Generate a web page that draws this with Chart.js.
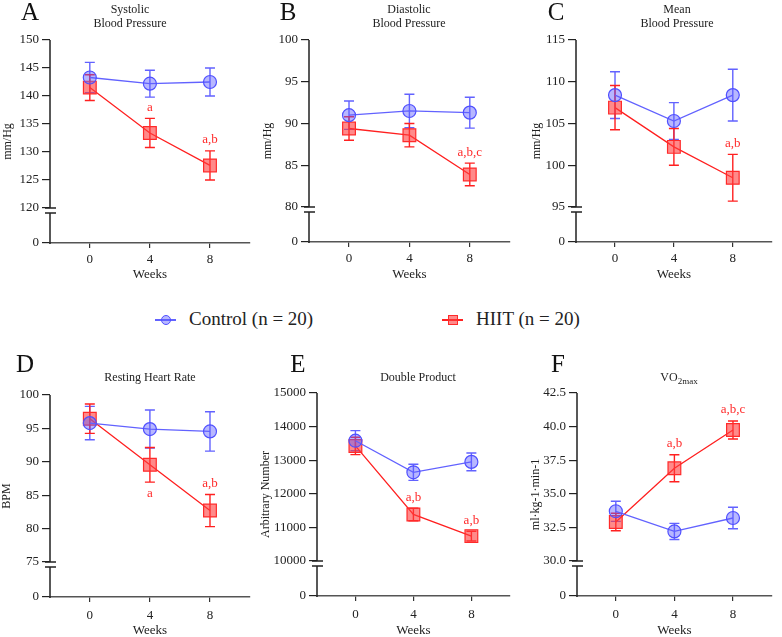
<!DOCTYPE html>
<html lang="en">
<head>
<meta charset="UTF-8">
<title>HIIT vs Control</title>
<script src="https://cdn.jsdelivr.net/npm/chart.js"></script>
<style>
  body { margin: 0; background: #fff; }
  #wrap { position: relative; width: 782px; height: 637px; overflow: hidden; }
  #wrap canvas { position: absolute; }
  .lg-text { position: absolute; font-family: "Liberation Serif", "Times New Roman", serif; font-size: 19px; color: #222; line-height: 22px; white-space: nowrap; }
  .lg-line { position: absolute; height: 1.5px; }
  .lg-mark { position: absolute; box-sizing: border-box; }
</style>
</head>
<body>
<div id="wrap"></div>
<script>
const weeks = [0, 4, 8];
const groupNames = ['Control (n = 20)', 'HIIT (n = 20)'];

// A - systolic blood pressure (mm/Hg)
const sysTicks = [120, 125, 130, 135, 140, 145, 150];
const sysControl = [143.3, 142.2, 142.5];
const sysControlSem = [2.7, 2.4, 2.5];
const sysHiit = [141.5, 133.4, 127.6];
const sysHiitSem = [2.3, 2.6, 2.6];
const sysSig = ['', 'a', 'a,b'];

// B - diastolic blood pressure
const diaTicks = [80, 85, 90, 95, 100];
const diaControl = [91.0, 91.5, 91.3];
const diaControlSem = [1.7, 2.0, 1.85];
const diaHiit = [89.4, 88.6, 83.9];
const diaHiitSem = [1.4, 1.4, 1.35];
const diaSig = ['', '', 'a,b,c'];

// C - mean blood pressure
const mapTicks = [95, 100, 105, 110, 115];
const mapControl = [108.4, 105.3, 108.4];
const mapControlSem = [2.8, 2.2, 3.1];
const mapHiit = [106.9, 102.2, 98.5];
const mapHiitSem = [2.65, 2.2, 2.8];
const mapSig = ['', '', 'a,b'];

// D - resting heart rate (BPM)
const hrTicks = [75, 80, 85, 90, 95, 100];
const hrControl = [95.8, 94.9, 94.55];
const hrControlSem = [2.5, 2.85, 2.95];
const hrHiit = [96.45, 89.55, 82.7];
const hrHiitSem = [2.2, 2.6, 2.4];
const hrSig = ['', 'a', 'a,b'];
const hrSigBelow = [false, true, false];

// E - double product
const dpTicks = [10000, 11000, 12000, 13000, 14000, 15000];
const dpControl = [13580, 12640, 12950];
const dpControlSem = [300, 240, 265];
const dpHiit = [13425, 11385, 10740];
const dpHiitSem = [260, 185, 145];
const dpSig = ['', 'a,b', 'a,b'];

// F - VO2max
const voTicks = [30.0, 32.5, 35.0, 37.5, 40.0, 42.5];
const voControl = [33.7, 32.2, 33.2];
const voControlSem = [0.75, 0.6, 0.8];
const voHiit = [32.9, 36.9, 39.75];
const voHiitSem = [0.65, 1.0, 0.67];
const voSig = ['', 'a,b', 'a,b,c'];

const SERIF = '"Liberation Serif", "Times New Roman", serif';
const CTRL_LINE = '#6262ff', CTRL_FILL = 'rgba(95,95,255,0.45)', CTRL_EDGE = '#5050ff';
const HIIT_LINE = '#ff2020', HIIT_FILL = 'rgba(255,60,60,0.6)', HIIT_EDGE = '#ff2a2a';

// box = canvas [x, y, w, h]; area = plot area [left, top, right, bottom] in page px
const panels = [
  { letter: 'A', title: ['Systolic', 'Blood Pressure'], yLabel: 'mm/Hg', ticks: sysTicks, decimals: 0,
    ctrl: sysControl, ctrlErr: sysControlSem, hiit: sysHiit, hiitErr: sysHiitSem, sig: sysSig,
    box: [0, 0, 260, 285], area: [50, 40, 250, 243], titleX: 130, titleY: [10, 24], letterXY: [30, 13],
    yTitlePad: 2, xTickPad: 4, xTitlePad: 4 },
  { letter: 'B', title: ['Diastolic', 'Blood Pressure'], yLabel: 'mm/Hg', ticks: diaTicks, decimals: 0,
    ctrl: diaControl, ctrlErr: diaControlSem, hiit: diaHiit, hiitErr: diaHiitSem, sig: diaSig,
    box: [260, 0, 260, 285], area: [309, 40, 510, 242], titleX: 409, titleY: [10, 24], letterXY: [288, 13],
    yTitlePad: 2, xTickPad: 4, xTitlePad: 4 },
  { letter: 'C', title: ['Mean', 'Blood Pressure'], yLabel: 'mm/Hg', ticks: mapTicks, decimals: 0,
    ctrl: mapControl, ctrlErr: mapControlSem, hiit: mapHiit, hiitErr: mapHiitSem, sig: mapSig,
    box: [520, 0, 262, 285], area: [576, 40, 778, 242], titleX: 677, titleY: [10, 24], letterXY: [556, 13],
    yTitlePad: 11, xTickPad: 4, xTitlePad: 4 },
  { letter: 'D', title: ['Resting Heart Rate'], yLabel: 'BPM', ticks: hrTicks, decimals: 0,
    ctrl: hrControl, ctrlErr: hrControlSem, hiit: hrHiit, hiitErr: hrHiitSem, sig: hrSig, below: hrSigBelow,
    box: [0, 330, 260, 307], area: [50, 395, 251, 597], titleX: 150, titleY: [378], letterXY: [25, 365],
    yTitlePad: 1, xTickPad: 6, xTitlePad: 0 },
  { letter: 'E', title: ['Double Product'], yLabel: 'Arbitrary Number', ticks: dpTicks, decimals: 0,
    ctrl: dpControl, ctrlErr: dpControlSem, hiit: dpHiit, hiitErr: dpHiitSem, sig: dpSig,
    box: [260, 330, 260, 307], area: [317, 393, 520, 596], titleX: 418, titleY: [378], letterXY: [298, 365],
    yTitlePad: 0, xTickPad: 6, xTitlePad: 0 },
  { letter: 'F', title: ['VO', '2max'], sub: true, yLabel: 'ml·kg-1·min-1', ticks: voTicks, decimals: 1,
    ctrl: voControl, ctrlErr: voControlSem, hiit: voHiit, hiitErr: voHiitSem, sig: voSig,
    box: [520, 330, 262, 307], area: [577, 393, 780, 596], titleX: 679, titleY: [378], letterXY: [558, 365],
    yTitlePad: 10, xTickPad: 6, xTitlePad: 0 }
];

function drawErrorBars(ctx, chart, vals, errs, color) {
  const xs = chart.scales.x, ys = chart.scales.y;
  ctx.save();
  ctx.strokeStyle = color;
  ctx.lineWidth = 1.4;
  vals.forEach((v, i) => {
    const x = xs.getPixelForValue(weeks[i]);
    const t = ys.getPixelForValue(v + errs[i]);
    const b = ys.getPixelForValue(v - errs[i]);
    ctx.beginPath();
    ctx.moveTo(x, t); ctx.lineTo(x, b);
    ctx.moveTo(x - 5, t); ctx.lineTo(x + 5, t);
    ctx.moveTo(x - 5, b); ctx.lineTo(x + 5, b);
    ctx.stroke();
  });
  ctx.restore();
}

function makeDecor(p) {
  const ox = p.box[0], oy = p.box[1];
  return {
    id: 'decor' + p.letter,
    beforeDatasetsDraw(chart) {
      drawErrorBars(chart.ctx, chart, p.ctrl, p.ctrlErr, CTRL_LINE);
      drawErrorBars(chart.ctx, chart, p.hiit, p.hiitErr, HIIT_LINE);
    },
    afterDraw(chart) {
      const ctx = chart.ctx, a = chart.chartArea, ys = chart.scales.y, xs = chart.scales.x;
      ctx.save();
      // y axis with break
      const ax = a.left, yLo = ys.getPixelForValue(p.ticks[0]);
      ctx.strokeStyle = '#222';
      ctx.lineWidth = 1.5;
      ctx.beginPath();
      ctx.moveTo(ax, a.top); ctx.lineTo(ax, yLo);
      ctx.moveTo(ax, yLo + 5); ctx.lineTo(ax, a.bottom + 1);
      ctx.moveTo(ax - 5, yLo); ctx.lineTo(ax + 6, yLo);
      ctx.moveTo(ax - 5, yLo + 5); ctx.lineTo(ax + 6, yLo + 5);
      ctx.stroke();

      // significance letters
      ctx.fillStyle = HIIT_EDGE;
      ctx.font = '13px ' + SERIF;
      ctx.textAlign = 'center';
      ctx.textBaseline = 'middle';
      p.sig.forEach((s, i) => {
        if (!s) return;
        const x = xs.getPixelForValue(weeks[i]);
        const below = p.below && p.below[i];
        const y = below ? ys.getPixelForValue(p.hiit[i] - p.hiitErr[i]) + 11
                        : ys.getPixelForValue(p.hiit[i] + p.hiitErr[i]) - 11;
        ctx.fillText(s, x, y);
      });

      // panel title
      ctx.fillStyle = '#222';
      if (p.sub) {
        ctx.font = '12px ' + SERIF;
        const w1 = ctx.measureText(p.title[0]).width;
        ctx.font = '9px ' + SERIF;
        const w2 = ctx.measureText(p.title[1]).width;
        const x0 = p.titleX - ox - (w1 + w2) / 2;
        ctx.textAlign = 'left';
        ctx.font = '12px ' + SERIF;
        ctx.fillText(p.title[0], x0, p.titleY[0] - oy);
        ctx.font = '9px ' + SERIF;
        ctx.fillText(p.title[1], x0 + w1, p.titleY[0] - oy + 4);
      } else {
        ctx.font = '12px ' + SERIF;
        ctx.textAlign = 'center';
        p.title.forEach((t, i) => ctx.fillText(t, p.titleX - ox, p.titleY[i] - oy));
      }

      // panel letter
      ctx.font = '25px ' + SERIF;
      ctx.fillStyle = '#111';
      ctx.textAlign = 'center';
      ctx.fillText(p.letter, p.letterXY[0] - ox, p.letterXY[1] - oy);
      ctx.restore();
    }
  };
}

const wrap = document.getElementById('wrap');

panels.forEach(p => {
  const [bx, by, bw, bh] = p.box;
  const [al, at, ar, ab] = p.area;
  const cv = document.createElement('canvas');
  cv.width = bw; cv.height = bh;
  cv.style.left = bx + 'px'; cv.style.top = by + 'px';
  cv.style.width = bw + 'px'; cv.style.height = bh + 'px';
  wrap.appendChild(cv);

  const lo = p.ticks[0], hi = p.ticks[p.ticks.length - 1];
  const areaH = ab - at;
  const yMin = lo - (hi - lo) * 35 / (areaH - 35);   // 35px broken segment down to 0

  new Chart(cv.getContext('2d'), {
    type: 'line',
    data: {
      datasets: [
        {
          label: groupNames[0],
          data: p.ctrl.map((v, i) => ({ x: weeks[i], y: v })),
          borderColor: CTRL_LINE, borderWidth: 1.3,
          pointStyle: 'circle', pointRadius: 6.5,
          pointBackgroundColor: CTRL_FILL, pointBorderColor: CTRL_EDGE, pointBorderWidth: 1.2
        },
        {
          label: groupNames[1],
          data: p.hiit.map((v, i) => ({ x: weeks[i], y: v })),
          borderColor: HIIT_LINE, borderWidth: 1.3,
          pointStyle: 'rect', pointRadius: 9,
          pointBackgroundColor: HIIT_FILL, pointBorderColor: HIIT_EDGE, pointBorderWidth: 1.2
        }
      ]
    },
    options: {
      responsive: false,
      animation: false,
      events: [],
      layout: { padding: { left: 0, top: at - by, right: bx + bw - ar, bottom: 0 } },
      plugins: { legend: { display: false }, tooltip: { enabled: false } },
      scales: {
        x: {
          type: 'linear', min: -2.65, max: 10.65,
          afterBuildTicks: s => { s.ticks = weeks.map(v => ({ value: v })); },
          afterFit: s => { s.height = by + bh - ab; },
          grid: { drawOnChartArea: false, tickLength: 5, color: '#333', lineWidth: 1.2 },
          border: { display: true, color: '#555', width: 1.6 },
          ticks: { font: { family: SERIF, size: 13 }, color: '#222', padding: p.xTickPad,
                   maxRotation: 0, autoSkip: false, callback: v => String(v) },
          title: { display: true, text: 'Weeks', color: '#222',
                   font: { family: SERIF, size: 13, lineHeight: 1 }, padding: { top: 0, bottom: p.xTitlePad } }
        },
        y: {
          type: 'linear', min: yMin, max: hi,
          afterBuildTicks: s => { s.ticks = [yMin].concat(p.ticks).map(v => ({ value: v })); },
          afterFit: s => { s.width = al - bx; },
          grid: { drawOnChartArea: false, tickLength: 8, color: '#222', lineWidth: 1.2 },
          border: { display: false },
          ticks: { font: { family: SERIF, size: 13 }, color: '#222', padding: 3, autoSkip: false,
                   callback: (v, i) => i === 0 ? '0' : v.toFixed(p.decimals) },
          title: { display: true, text: p.yLabel, color: '#222',
                   font: { family: SERIF, size: 12, lineHeight: 1 }, padding: { top: p.yTitlePad, bottom: 0 } }
        }
      }
    },
    plugins: [makeDecor(p)]
  });
});

// shared legend
const legendItems = [
  { x: 155, textX: 189, line: CTRL_LINE, fill: CTRL_FILL, edge: CTRL_EDGE, round: true },
  { x: 442, textX: 476, line: HIIT_LINE, fill: HIIT_FILL, edge: HIIT_EDGE, round: false }
];
legendItems.forEach((it, i) => {
  const ln = document.createElement('div');
  ln.className = 'lg-line';
  ln.style.cssText = `left:${it.x}px;top:319px;width:21px;background:${it.line}`;
  wrap.appendChild(ln);
  const mk = document.createElement('div');
  mk.className = 'lg-mark';
  mk.style.cssText = `left:${it.x + 6}px;top:315px;width:10px;height:10px;background:${it.fill};` +
    `border:1px solid ${it.edge};border-radius:${it.round ? '50%' : '0'}`;
  wrap.appendChild(mk);
  const tx = document.createElement('div');
  tx.className = 'lg-text';
  tx.style.left = it.textX + 'px';
  tx.style.top = '308px';
  tx.textContent = groupNames[i];
  wrap.appendChild(tx);
});
</script>
</body>
</html>
